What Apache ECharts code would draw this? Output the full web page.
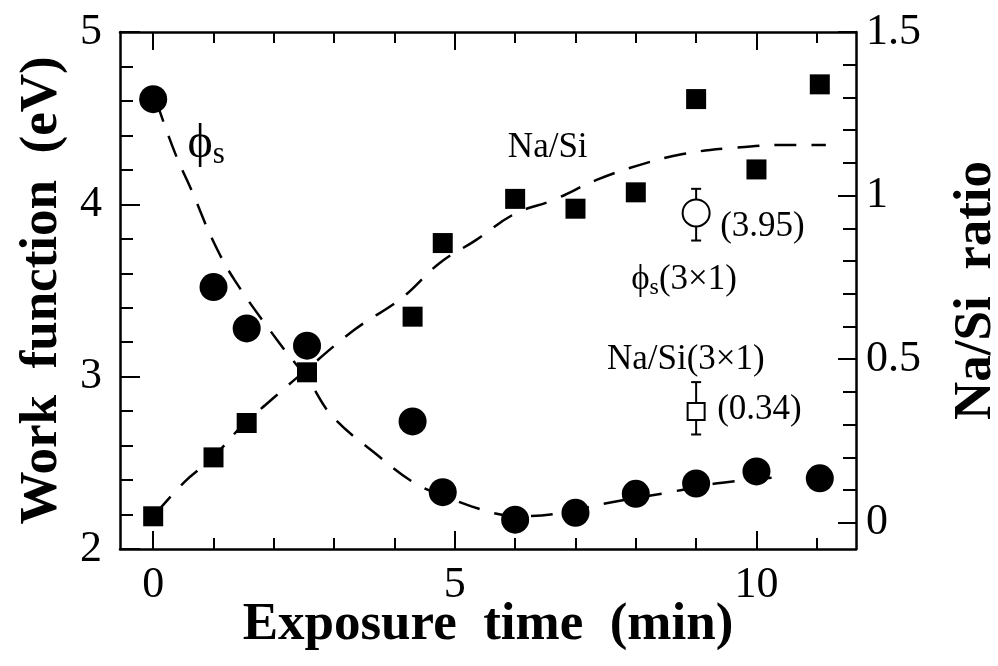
<!DOCTYPE html>
<html>
<head>
<meta charset="utf-8">
<script src="https://cdn.jsdelivr.net/npm/echarts@6/dist/echarts.min.js"></script>
<style>
	html, body { margin: 0; padding: 0; background: #fff; }
	#chart { width: 998px; height: 666px; }
</style>
</head>
<body>
<div id="chart"></div>
<script>
// work function (circles, left axis)
const timePhi = [0, 1, 1.55, 2.55, 4.3, 4.8, 6, 7, 8, 9, 10, 11.05]
const phiValues = [4.61, 3.52, 3.28, 3.18, 2.74, 2.33, 2.17, 2.21, 2.32, 2.38, 2.45, 2.41]

// Na/Si ratio (squares, right axis)
const timeNa = [0, 1, 1.55, 2.55, 4.3, 4.8, 6, 7, 8, 9, 10, 11.05]
const naValues = [0.02, 0.2, 0.305, 0.46, 0.63, 0.855, 0.99, 0.96, 1.01, 1.295, 1.08, 1.34]

// dashed guide curves
const phiFitX = [0.05, 0.36, 0.65, 0.99, 1.35, 2.06, 2.57, 2.97, 3.7, 4.3, 4.8, 5.63, 6.1, 6.8, 7.43, 8.57, 9.32, 10.48]
const phiFitY = [4.6, 4.3, 4.07, 3.79, 3.56, 3.21, 2.98, 2.77, 2.55, 2.39, 2.31, 2.21, 2.19, 2.21, 2.26, 2.33, 2.38, 2.42]
const naFitX = [0.05, 0.52, 0.98, 1.53, 1.86, 2.24, 2.4, 3.33, 4.12, 4.75, 5.35, 5.99, 6.64, 7.35, 8.07, 8.78, 9.56, 10.49, 11.15]
const naFitY = [0.03, 0.125, 0.198, 0.308, 0.36, 0.421, 0.446, 0.589, 0.687, 0.794, 0.864, 0.944, 0.987, 1.048, 1.094, 1.127, 1.145, 1.155, 1.155]

// (3x1) reference points with error bars: [time, value, low, high]
const phi3x1 = [9, 3.95, 3.79, 4.09]
const na3x1 = [9, 0.34, 0.27, 0.43]

// ticks
const xMajor = [0, 5, 10]
const xMinor = [0, 1, 2, 3, 4, 5, 6, 7, 8, 9, 10, 11]
const rMajor = [0, 0.5, 1, 1.5]
const rMinor = [0.1, 0.2, 0.3, 0.4, 0.6, 0.7, 0.8, 0.9, 1.1, 1.2, 1.3, 1.4]

// annotations (left-axis coordinates)
const annoX = [0.88, 6.54, 10.1, 8.8, 8.83, 10.05]
const annoY = [4.35, 4.33, 3.87, 3.56, 3.1, 2.81]
const annoText = ['{p|ϕ}{s|s}', 'Na/Si', '(3.95)', '{q|ϕ}{t|s}{q|(3×1)}', 'Na/Si(3×1)', '(0.34)']

const FONT = 'Liberation Serif'
const zip = (a, b) => a.map((v, i) => [v, b[i]])

const chart = echarts.init(document.getElementById('chart'))

const xAxisBase = (pos, ticks, len, showLine, showLabel) => ({
	type: 'value',
	position: pos,
	min: -0.55,
	max: 11.65,
	splitLine: { show: false },
	axisLine: { show: showLine, onZero: false, lineStyle: { color: '#000', width: 2.5 } },
	axisTick: { show: true, inside: true, length: len, customValues: ticks, lineStyle: { color: '#000', width: 2 } },
	axisLabel: showLabel
		? { show: true, customValues: xMajor, margin: 14, color: '#000', fontFamily: FONT, fontSize: 44 }
		: { show: false },
})

const errorBar = (yIdx, item) => ({
	type: 'custom',
	yAxisIndex: yIdx,
	silent: true,
	z: 3,
	data: [item],
	renderItem: (params, api) => {
		const lo = api.coord([api.value(0), api.value(2)])
		const hi = api.coord([api.value(0), api.value(3)])
		const style = { stroke: '#000', lineWidth: 2 }
		return {
			type: 'group',
			children: [
				{ type: 'line', shape: { x1: lo[0], y1: lo[1], x2: hi[0], y2: hi[1] }, style },
				{ type: 'line', shape: { x1: lo[0] - 5, y1: lo[1], x2: lo[0] + 5, y2: lo[1] }, style },
				{ type: 'line', shape: { x1: hi[0] - 5, y1: hi[1], x2: hi[0] + 5, y2: hi[1] }, style },
			],
		}
	},
	encode: { x: 0, y: [2, 3] },
})

const dashStyle = { color: '#000', width: 2.5, type: [22, 15] }

const option = {
	animation: false,
	backgroundColor: '#fff',
	grid: { left: 120, right: 142, top: 32, bottom: 117, outerBoundsMode: 'none' },
	xAxis: [
		{
			...xAxisBase('bottom', xMinor, 11, true, true),
			name: 'Exposure  time  (min)',
			nameLocation: 'middle',
			nameGap: 50,
			nameMoveOverlap: false,
			nameTextStyle: { color: '#000', fontFamily: FONT, fontWeight: 'bold', fontSize: 53 },
		},
		xAxisBase('bottom', xMajor, 18, false, false),
		xAxisBase('top', xMinor, 11, true, false),
		xAxisBase('top', xMajor, 18, false, false),
	],
	yAxis: [
		{
			type: 'value',
			position: 'left',
			min: 2,
			max: 5,
			interval: 1,
			splitLine: { show: false },
			axisLine: { show: true, onZero: false, lineStyle: { color: '#000', width: 2.5 } },
			axisTick: { inside: true, length: 20, lineStyle: { color: '#000', width: 2 } },
			minorTick: { show: true, splitNumber: 5, length: 13, lineStyle: { color: '#000', width: 2 } },
			axisLabel: { margin: 18, color: '#000', fontFamily: FONT, fontSize: 44 },
			name: 'Work  function  (eV)',
			nameLocation: 'middle',
			nameGap: 46,
			nameTextStyle: { color: '#000', fontFamily: FONT, fontWeight: 'bold', fontSize: 53 },
		},
		{
			type: 'value',
			position: 'right',
			min: -0.08,
			max: 1.5,
			splitLine: { show: false },
			axisLine: { show: true, onZero: false, lineStyle: { color: '#000', width: 2.5 } },
			axisTick: { inside: true, length: 18, customValues: rMajor, lineStyle: { color: '#000', width: 2 } },
			axisLabel: { customValues: rMajor, margin: 10, color: '#000', fontFamily: FONT, fontSize: 44 },
			name: 'Na/Si  ratio',
			nameLocation: 'middle',
			nameGap: 94,
			nameTextStyle: { color: '#000', fontFamily: FONT, fontWeight: 'bold', fontSize: 53 },
		},
		{
			type: 'value',
			position: 'right',
			min: -0.08,
			max: 1.5,
			splitLine: { show: false },
			axisLine: { show: false, onZero: false },
			axisTick: { inside: true, length: 13, customValues: rMinor, lineStyle: { color: '#000', width: 2 } },
			axisLabel: { show: false },
		},
	],
	series: [
		{
			type: 'line',
			yAxisIndex: 0,
			data: zip(phiFitX, phiFitY),
			smooth: 0.4,
			showSymbol: false,
			silent: true,
			lineStyle: dashStyle,
			z: 1,
		},
		{
			type: 'line',
			yAxisIndex: 1,
			data: zip(naFitX, naFitY),
			smooth: 0.4,
			showSymbol: false,
			silent: true,
			lineStyle: dashStyle,
			z: 1,
		},
		{
			type: 'scatter',
			yAxisIndex: 0,
			data: zip(timePhi, phiValues),
			symbol: 'circle',
			symbolSize: 28,
			itemStyle: { color: '#000', opacity: 1 },
			z: 5,
		},
		{
			type: 'scatter',
			yAxisIndex: 1,
			data: zip(timeNa, naValues),
			symbol: 'rect',
			symbolSize: 20,
			itemStyle: { color: '#000', opacity: 1 },
			z: 5,
		},
		errorBar(0, phi3x1),
		errorBar(1, na3x1),
		{
			type: 'scatter',
			yAxisIndex: 0,
			data: [[phi3x1[0], phi3x1[1]]],
			symbol: 'circle',
			symbolSize: 27,
			itemStyle: { color: '#fff', borderColor: '#000', borderWidth: 2, opacity: 1 },
			z: 6,
		},
		{
			type: 'scatter',
			yAxisIndex: 1,
			data: [[na3x1[0], na3x1[1]]],
			symbol: 'rect',
			symbolSize: 17,
			itemStyle: { color: '#fff', borderColor: '#000', borderWidth: 2, opacity: 1 },
			z: 6,
		},
		{
			type: 'scatter',
			yAxisIndex: 0,
			silent: true,
			symbolSize: 0,
			itemStyle: { opacity: 1 },
			z: 7,
			data: annoX.map((x, i) => ({
				value: [x, annoY[i]],
				label: { formatter: annoText[i] },
			})),
			label: {
				show: true,
				position: 'inside',
				color: '#000',
				fontFamily: FONT,
				fontSize: 35,
				rich: {
					p: { fontFamily: FONT, fontSize: 48, color: '#000' },
					s: { fontFamily: FONT, fontSize: 31, color: '#000', padding: [22, 0, 0, 0] },
					q: { fontFamily: FONT, fontSize: 35, color: '#000' },
					t: { fontFamily: FONT, fontSize: 24, color: '#000', padding: [16, 0, 0, 0] },
				},
			},
		},
	],
}

option && chart.setOption(option)
</script>
</body>
</html>
